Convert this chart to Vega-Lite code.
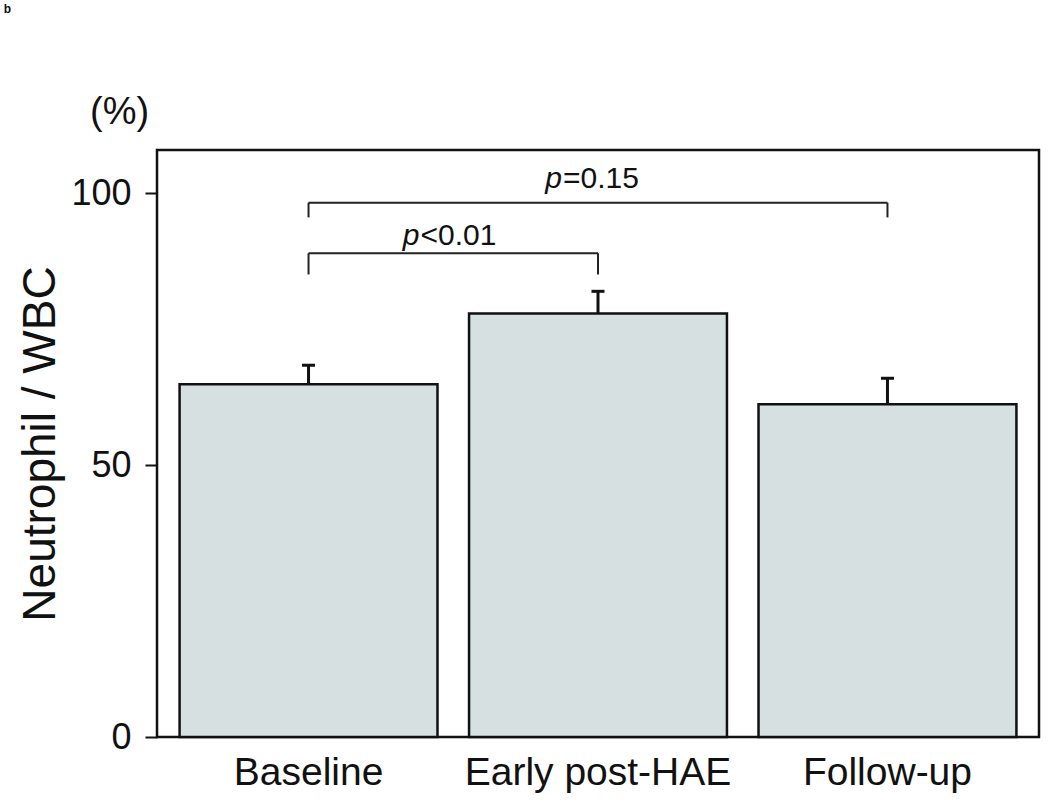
{
  "$schema": "https://vega.github.io/schema/vega-lite/v6.json",
  "padding": {"left": 3, "top": 2, "right": 5, "bottom": 5},
  "title": {"text": "b", "anchor": "start", "frame": "bounds", "fontSize": 12, "fontWeight": "bold", "font": "Liberation Sans", "color": "#111", "dx": -13, "offset": 77},
  "datasets": {
    "bars": [
      {"group": "Baseline", "mean": 64.9, "upper": 68.4},
      {"group": "Early post-HAE", "mean": 77.9, "upper": 82.0},
      {"group": "Follow-up", "mean": 61.2, "upper": 66.0}
    ],
    "brackets": [
      {"from": "Baseline", "to": "Early post-HAE", "top": 89.0, "leg": 85.1},
      {"from": "Baseline", "to": "Follow-up", "top": 98.3, "leg": 95.6}
    ],
    "pvals": [
      {"at": "Baseline", "p": "p", "rest": "<0.01", "ty": 90.6},
      {"at": "Early post-HAE", "p": "p", "rest": "=0.15", "ty": 101.0}
    ]
  },
  "vconcat": [
    {
      "width": 882,
      "height": 587,
      "title": {"text": "(%)", "anchor": "start", "frame": "group", "fontSize": 38, "fontWeight": "normal", "font": "Liberation Sans", "color": "#111", "dx": -67, "offset": 18},
      "encoding": {
        "x": {"field": "group", "type": "nominal", "sort": null,
          "scale": {"domain": ["Baseline", "Early post-HAE", "Follow-up"], "paddingInner": 0.109, "paddingOuter": 0.078},
          "axis": {"title": null, "labelAngle": 0, "ticks": false, "domain": false, "labelPadding": 16, "labelLimit": 0, "labelFontSize": 39, "labelFont": "Liberation Sans", "labelColor": "#111"}}
      },
      "layer": [
        {
          "data": {"name": "bars"},
          "mark": {"type": "bar", "fill": "#d6e0e0", "stroke": "#111", "strokeWidth": 2.5},
          "encoding": {
            "y": {"field": "mean", "type": "quantitative",
              "scale": {"domain": [0, 108], "nice": false},
              "axis": {"values": [0, 50, 100], "title": "Neutrophil / WBC", "titleFontSize": 46, "titleFontWeight": "normal", "titleFont": "Liberation Sans", "titleColor": "#111", "titlePadding": 6, "grid": false, "domain": false, "tickSize": 12, "tickWidth": 2, "tickColor": "#111", "labelFontSize": 36, "labelFont": "Liberation Sans", "labelColor": "#111", "labelPadding": 14}}
          }
        },
        {
          "data": {"name": "bars"},
          "mark": {"type": "rule", "stroke": "#111", "strokeWidth": 3},
          "encoding": {"y": {"field": "mean", "type": "quantitative"}, "y2": {"field": "upper"}}
        },
        {
          "data": {"name": "bars"},
          "mark": {"type": "tick", "color": "#111", "size": 13, "thickness": 3, "opacity": 1},
          "encoding": {"y": {"field": "upper", "type": "quantitative"}}
        },
        {
          "data": {"name": "brackets"},
          "mark": {"type": "rule", "stroke": "#222", "strokeWidth": 2},
          "encoding": {"x": {"field": "from", "type": "nominal"}, "x2": {"field": "to"}, "y": {"field": "top", "type": "quantitative"}}
        },
        {
          "data": {"name": "brackets"},
          "mark": {"type": "rule", "stroke": "#222", "strokeWidth": 2},
          "encoding": {"x": {"field": "from", "type": "nominal"}, "y": {"field": "leg", "type": "quantitative"}, "y2": {"field": "top"}}
        },
        {
          "data": {"name": "brackets"},
          "mark": {"type": "rule", "stroke": "#222", "strokeWidth": 2},
          "encoding": {"x": {"field": "to", "type": "nominal"}, "y": {"field": "leg", "type": "quantitative"}, "y2": {"field": "top"}}
        },
        {
          "data": {"name": "pvals"},
          "transform": [{"filter": "datum.at === 'Baseline'"}],
          "mark": {"type": "text", "align": "right", "baseline": "alphabetic", "dx": 111, "fontSize": 30, "fontStyle": "italic", "font": "Liberation Sans", "color": "#111"},
          "encoding": {"x": {"field": "at", "type": "nominal"}, "y": {"field": "ty", "type": "quantitative"}, "text": {"field": "p"}}
        },
        {
          "data": {"name": "pvals"},
          "transform": [{"filter": "datum.at === 'Baseline'"}],
          "mark": {"type": "text", "align": "left", "baseline": "alphabetic", "dx": 112, "fontSize": 30, "font": "Liberation Sans", "color": "#111"},
          "encoding": {"x": {"field": "at", "type": "nominal"}, "y": {"field": "ty", "type": "quantitative"}, "text": {"field": "rest"}}
        },
        {
          "data": {"name": "pvals"},
          "transform": [{"filter": "datum.at === 'Early post-HAE'"}],
          "mark": {"type": "text", "align": "right", "baseline": "alphabetic", "dx": -36, "fontSize": 30, "fontStyle": "italic", "font": "Liberation Sans", "color": "#111"},
          "encoding": {"x": {"field": "at", "type": "nominal"}, "y": {"field": "ty", "type": "quantitative"}, "text": {"field": "p"}}
        },
        {
          "data": {"name": "pvals"},
          "transform": [{"filter": "datum.at === 'Early post-HAE'"}],
          "mark": {"type": "text", "align": "left", "baseline": "alphabetic", "dx": -35, "fontSize": 30, "font": "Liberation Sans", "color": "#111"},
          "encoding": {"x": {"field": "at", "type": "nominal"}, "y": {"field": "ty", "type": "quantitative"}, "text": {"field": "rest"}}
        }
      ]
    }
  ],
  "config": {
    "view": {"stroke": "#111", "strokeWidth": 2.5},
    "background": "white"
  }
}
